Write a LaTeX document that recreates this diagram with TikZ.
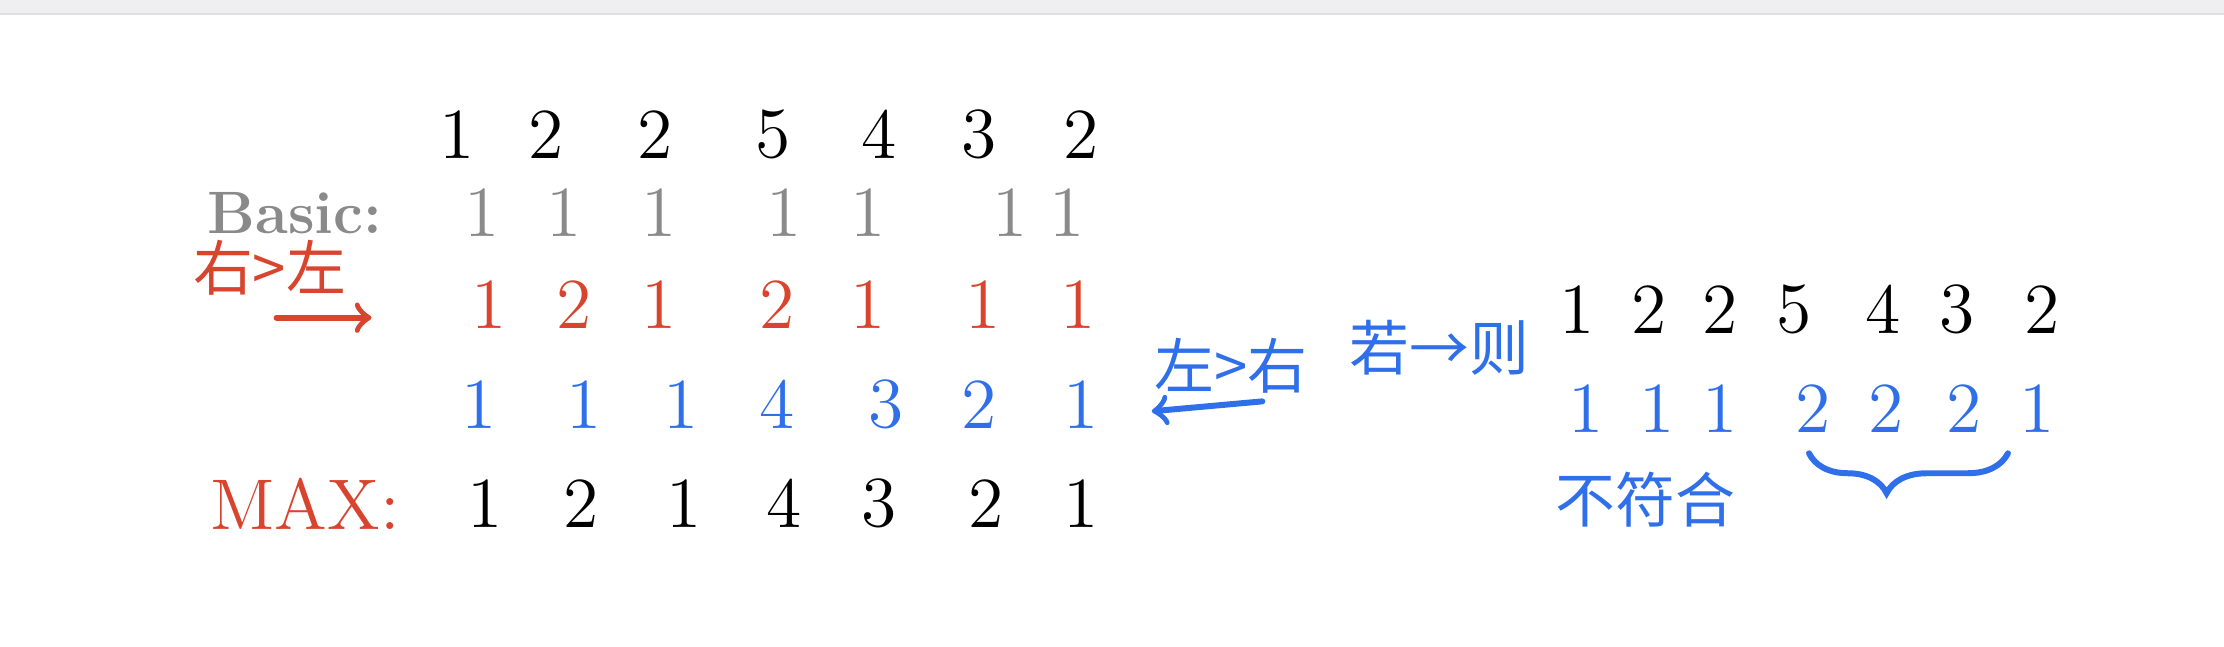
\documentclass[tikz,border=0pt]{standalone}
\usepackage{fontspec}
\newfontfamily\cjk{Noto Sans CJK SC}
\usetikzlibrary{decorations.pathreplacing}
\definecolor{inkred}{HTML}{D9442E}
\definecolor{inkblue}{HTML}{2F6FEA}
\definecolor{inkgray}{HTML}{8A8A8A}
\definecolor{topbar}{HTML}{EFEFF1}
\newcommand\RowA{95}
\newcommand\RowB{150}
\newcommand\RowC{215}
\newcommand\RowD{285}
\newcommand\RowE{355}
\tikzset{
  digit/.style={
    font = \Large,
    inner sep = 1pt
  },
  plain/.style={digit, color = black},
  basic/.style={digit, color = inkgray},
  rtol/.style={digit, color = inkred},
  ltor/.style={digit, color = inkblue},
  note/.style={
    font = \cjk\large,
    inner sep = 1pt
  },
  stroke/.style={
    line width = 1.2pt,
    line cap = round
  }
}

\begin{document}
\begin{tikzpicture}[x=0.01cm, y=-0.01cm]
    \useasboundingbox (0,0) rectangle (1568,456);
    \fill[topbar] (0,0) rectangle (1568,10);
    \draw[gray!25] (0,10) -- (1568,10);

    % input heights
    \node[plain] (a1) at (322,\RowA) {1};
    \node[plain] (a2) at (385,\RowA) {2};
    \node[plain] (a3) at (462,\RowA) {2};
    \node[plain] (a4) at (545,\RowA) {5};
    \node[plain] (a5) at (620,\RowA) {4};
    \node[plain] (a6) at (690,\RowA) {3};
    \node[plain] (a7) at (762,\RowA) {2};

    \node[basic, font=\large\bfseries] (basic) at (208,\RowB) {Basic:};
    \node[basic] (b1) at (340,\RowB) {1};
    \node[basic] (b2) at (398,\RowB) {1};
    \node[basic] (b3) at (465,\RowB) {1};
    \node[basic] (b4) at (553,\RowB) {1};
    \node[basic] (b5) at (612,\RowB) {1};
    \node[basic] (b6) at (712,\RowB) {1};
    \node[basic] (b7) at (752,\RowB) {1};

    \node[note, color=inkred] (rl) at (190,189) {右>左};
    \coordinate (rltail) at (195,224);
    \coordinate (rlhead) at (262,224);
    \draw[stroke, color=inkred, ->] (rltail) -- (rlhead);
    \node[rtol] (c1) at (345,\RowC) {1};
    \node[rtol] (c2) at (405,\RowC) {2};
    \node[rtol] (c3) at (465,\RowC) {1};
    \node[rtol] (c4) at (548,\RowC) {2};
    \node[rtol] (c5) at (612,\RowC) {1};
    \node[rtol] (c6) at (693,\RowC) {1};
    \node[rtol] (c7) at (760,\RowC) {1};

    \node[ltor] (d1) at (338,\RowD) {1};
    \node[ltor] (d2) at (412,\RowD) {1};
    \node[ltor] (d3) at (480,\RowD) {1};
    \node[ltor] (d4) at (548,\RowD) {4};
    \node[ltor] (d5) at (625,\RowD) {3};
    \node[ltor] (d6) at (690,\RowD) {2};
    \node[ltor] (d7) at (762,\RowD) {1};
    \node[note, color=inkblue] (lr) at (868,258) {左>右};
    \coordinate (lrtail) at (890,283);
    \coordinate (lrhead) at (812,290);
    \draw[stroke, color=inkblue, ->] (lrtail) -- (lrhead);

    \node[digit, color=inkred] (max) at (215,\RowE) {MAX:};
    \node[plain] (e1) at (342,\RowE) {1};
    \node[plain] (e2) at (410,\RowE) {2};
    \node[plain] (e3) at (482,\RowE) {1};
    \node[plain] (e4) at (553,\RowE) {4};
    \node[plain] (e5) at (620,\RowE) {3};
    \node[plain] (e6) at (695,\RowE) {2};
    \node[plain] (e7) at (762,\RowE) {1};

    % counter example
    \node[note, color=inkblue] (ifthen) at (1015,245) {若→则};
    \node[plain] (f1) at (1112,218) {1};
    \node[plain] (f2) at (1163,218) {2};
    \node[plain] (f3) at (1213,218) {2};
    \node[plain] (f4) at (1265,218) {5};
    \node[plain] (f5) at (1328,218) {4};
    \node[plain] (f6) at (1380,218) {3};
    \node[plain] (f7) at (1440,218) {2};

    \node[ltor] (g1) at (1118,288) {1};
    \node[ltor] (g2) at (1168,288) {1};
    \node[ltor] (g3) at (1213,288) {1};
    \node[ltor] (g4) at (1278,288) {2};
    \node[ltor] (g5) at (1330,288) {2};
    \node[ltor] (g6) at (1385,288) {2};
    \node[ltor] (g7) at (1436,288) {1};
    \draw[stroke, color=inkblue, decorate,
          decoration={brace, mirror, amplitude=8pt, aspect=0.39}]
        ([xshift=4pt, yshift=-3pt]g4.south west) -- ([xshift=4pt, yshift=-3pt]g6.south east);
    \node[note, color=inkblue] (nofit) at (1160,352) {不符合};
\end{tikzpicture}
\end{document}
